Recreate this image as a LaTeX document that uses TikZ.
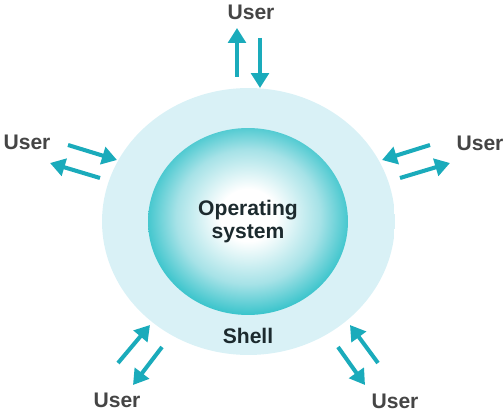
\documentclass[tikz,border=0pt]{standalone}
\usepackage{fontspec}
\setmainfont{Liberation Sans}
\usetikzlibrary{positioning,arrows.meta,shapes.geometric}
\definecolor{arrowteal}{HTML}{1AABBB}
\definecolor{coreteal}{HTML}{1DBCC4}
\definecolor{corelight}{HTML}{A6E2E7}
\definecolor{shellpale}{HTML}{D9F1F6}
\definecolor{shelledge}{HTML}{BFE6EE}
\definecolor{labelgray}{HTML}{454545}
\definecolor{textdark}{HTML}{1C2A2E}
\pgfdeclareradialshading{coreglow}{\pgfpoint{0bp}{2bp}}{color(0bp)=(white); color(7bp)=(white); color(18bp)=(corelight); color(28bp)=(coreteal); color(50bp)=(coreteal)}
\pgfdeclareradialshading{shellglow}{\pgfpointorigin}{color(0bp)=(shellpale); color(25bp)=(shellpale); color(33bp)=(shelledge); color(35bp)=(shelledge!75!white); color(50bp)=(white)}
\tikzset{usr/.style={font=\fontsize{12}{14}\selectfont\bfseries,text=labelgray,inner sep=0pt}}
\tikzset{flow/.style={-{Triangle[length=8.5pt,width=10pt]},line width=2.3pt,draw=arrowteal}}
\tikzset{ring/.style={ellipse,inner sep=0pt,font=\fontsize{12}{13.5}\selectfont\bfseries,text=textdark,align=center}}

\begin{document}
\begin{tikzpicture}[x=0.02cm,y=-0.02cm]
	\useasboundingbox (0,0) rectangle (504,412);
	% shell and kernel
	\node[ring,minimum width=5.86cm,minimum height=5.34cm,shading=shellglow] (shell) at (248.5,221.5) {};
	\node[ring,minimum width=4cm,minimum height=3.74cm,shading=coreglow] (os) at (248,221.5) {Operating\\system};
	\node[ring] (shelltxt) at (248,336) {Shell};
	% users
	\node[usr] (uTop) at (251,12) {User};
	\node[usr] (uLeft) at (27,142) {User};
	\node[usr] (uRight) at (480,143) {User};
	\node[usr] (uBL) at (117,400) {User};
	\node[usr] (uBR) at (395,401) {User};
	% arrow ends
	\coordinate (t1a) at (237,77);  \coordinate (t1b) at (237,28);
	\coordinate (t2a) at (260,38);  \coordinate (t2b) at (260,88);
	\coordinate (l1a) at (68,145);  \coordinate (l1b) at (117,160);
	\coordinate (l2a) at (100,178); \coordinate (l2b) at (50,163);
	\coordinate (r1a) at (430,145); \coordinate (r1b) at (382,160);
	\coordinate (r2a) at (400,178); \coordinate (r2b) at (450,163);
	\coordinate (b1a) at (118,363); \coordinate (b1b) at (150,325);
	\coordinate (b2a) at (162,347); \coordinate (b2b) at (133,385);
	\coordinate (c1a) at (378,363); \coordinate (c1b) at (350,325);
	\coordinate (c2a) at (338,347); \coordinate (c2b) at (365,385);
	\draw[flow] (t1a) -- (t1b);
	\draw[flow] (t2a) -- (t2b);
	\draw[flow] (l1a) -- (l1b);
	\draw[flow] (l2a) -- (l2b);
	\draw[flow] (r1a) -- (r1b);
	\draw[flow] (r2a) -- (r2b);
	\draw[flow] (b1a) -- (b1b);
	\draw[flow] (b2a) -- (b2b);
	\draw[flow] (c1a) -- (c1b);
	\draw[flow] (c2a) -- (c2b);
\end{tikzpicture}
\end{document}
